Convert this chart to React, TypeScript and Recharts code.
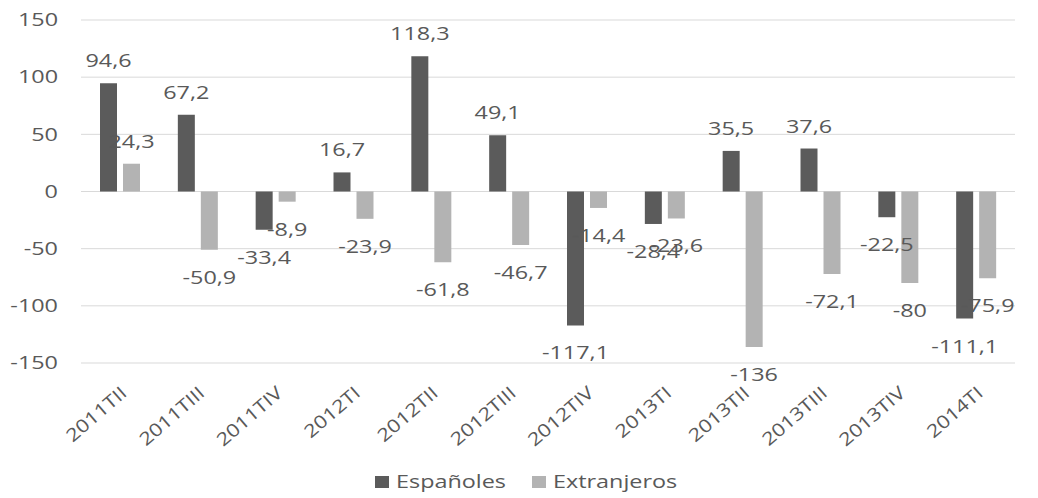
import React from 'react';
import { BarChart, Bar, XAxis, YAxis, CartesianGrid, Legend, LabelList } from 'recharts';

const categories = ['2011TII', '2011TIII', '2011TIV', '2012TI', '2012TII', '2012TIII', '2012TIV', '2013TI', '2013TII', '2013TIII', '2013TIV', '2014TI'];
const espanoles = [94.6, 67.2, -33.4, 16.7, 118.3, 49.1, -117.1, -28.4, 35.5, 37.6, -22.5, -111.1];
const extranjeros = [24.3, -50.9, -8.9, -23.9, -61.8, -46.7, -14.4, -23.6, -136, -72.1, -80, -75.9];
const yTicks = [-150, -100, -50, 0, 50, 100, 150];
const seriesNames = ['Españoles', 'Extranjeros'];
const seriesColors = ['#5b5b5b', '#b3b3b3'];

const data = categories.map((c, i) => ({ cat: c, esp: espanoles[i], ext: extranjeros[i] }));

const FONT = "'Open Sans', sans-serif";
const TXT = '#595959';
const SX = 1.3;

const fmt = (v: number) => String(v).replace('.', ',');

const BarLabel = (props: any) => {
  const vb = props.viewBox || {};
  const x = props.x ?? vb.x;
  const y = props.y ?? vb.y;
  const width = props.width ?? vb.width;
  const height = props.height ?? vb.height;
  const value = Number(props.value);
  const cx = x + width / 2;
  const top = Math.min(y, y + height);
  const bottom = Math.max(y, y + height);
  const ty = value >= 0 ? top - 16 : bottom + 34;
  return (
    <text transform={`translate(${cx},${ty}) scale(${SX},1)`} x={0} y={0} textAnchor="middle" fontFamily={FONT} fontSize={18} fill={TXT}>
      {fmt(value)}
    </text>
  );
};

const YTick = (props: any) => {
  const { y, payload } = props;
  return (
    <text transform={`translate(58,${y}) scale(${SX},1)`} x={0} y={0} dy="0.35em" textAnchor="end" fontFamily={FONT} fontSize={18} fill={TXT}>
      {payload.value}
    </text>
  );
};

const XTick = (props: any) => {
  const { x, y, payload } = props;
  return (
    <text transform={`translate(${x + 4},${y + 27}) rotate(-41) scale(1.2,1)`} x={0} y={0} dy="0.35em" textAnchor="end" fontFamily={FONT} fontSize={18} fill={TXT}>
      {payload.value}
    </text>
  );
};

const LegendContent = () => {
  const startX = [375, 532];
  return (
    <svg width={1038} height={28} style={{ display: 'block' }}>
      {seriesNames.map((n, i) => (
        <g key={n}>
          <rect x={startX[i]} y={8} width={14} height={12} fill={seriesColors[i]} />
          <text transform={`translate(${startX[i] + 21},14) scale(${SX},1)`} x={0} y={0} dy="0.35em" fontFamily={FONT} fontSize={18} fill={TXT}>
            {n}
          </text>
        </g>
      ))}
    </svg>
  );
};

export default function App() {
  return (
    <div style={{ position: 'absolute', left: 0, top: 0, width: 1038, height: 498, background: '#fff' }}>
      <BarChart width={1038} height={498} data={data} margin={{ top: 20, right: 23, bottom: 2, left: 0 }} barSize={17} barGap={6}>
        <CartesianGrid vertical={false} stroke="#d9d9d9" strokeWidth={1} />
        <XAxis dataKey="cat" axisLine={false} tickLine={false} tickSize={0} tickMargin={0} height={105} interval={0} tick={<XTick />} />
        <YAxis domain={[-150, 150]} ticks={yTicks} axisLine={false} tickLine={false} tickSize={0} width={81} tick={<YTick />} interval={0} />
        <Legend verticalAlign="bottom" height={28} content={<LegendContent />} />
        <Bar dataKey="esp" name={seriesNames[0]} fill={seriesColors[0]} isAnimationActive={false}>
          <LabelList dataKey="esp" content={<BarLabel />} />
        </Bar>
        <Bar dataKey="ext" name={seriesNames[1]} fill={seriesColors[1]} isAnimationActive={false}>
          <LabelList dataKey="ext" content={<BarLabel />} />
        </Bar>
      </BarChart>
    </div>
  );
}
